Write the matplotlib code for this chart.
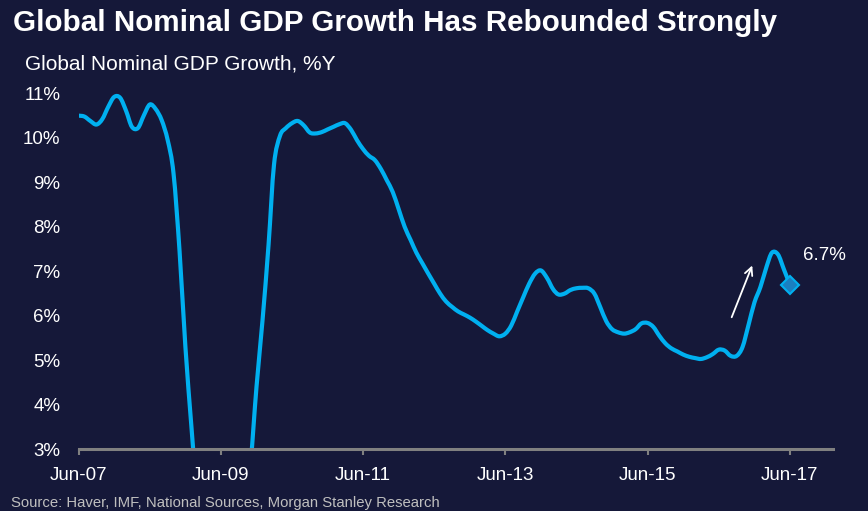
import matplotlib
matplotlib.use("Agg")
import matplotlib.pyplot as plt
import matplotlib.dates as mdates
from matplotlib.path import Path
from matplotlib.patches import PathPatch
import numpy as np
import pandas as pd

plt.rcParams['font.family'] = ['Liberation Sans', 'DejaVu Sans']

# ---- data ----
start_month = "2007-06-01"
gdp_growth = [
    10.50, 10.48, 10.38, 10.30, 10.42, 10.70, 10.92, 10.90, 10.60, 10.25,
    10.22, 10.50, 10.75, 10.65, 10.40, 9.95, 9.20, 7.45, 5.30, 3.50,
    1.80, 0.50, -0.50, -1.20, -1.50, -1.40, -0.80, 0.30, 1.60, 2.70,
    4.40, 5.90, 7.60, 9.40, 10.05, 10.22, 10.33, 10.38, 10.28, 10.12,
    10.10, 10.13, 10.19, 10.25, 10.31, 10.33, 10.18, 9.95, 9.75, 9.60,
    9.50, 9.30, 9.05, 8.78, 8.40, 8.00, 7.70, 7.42, 7.18, 6.95,
    6.72, 6.50, 6.32, 6.20, 6.10, 6.03, 5.96, 5.87, 5.77, 5.68,
    5.60, 5.54, 5.60, 5.78, 6.10, 6.42, 6.72, 6.95, 7.02, 6.85,
    6.60, 6.48, 6.50, 6.58, 6.62, 6.63, 6.62, 6.50, 6.20, 5.88,
    5.70, 5.63, 5.60, 5.63, 5.70, 5.83, 5.84, 5.75, 5.55, 5.38,
    5.27, 5.20, 5.13, 5.08, 5.05, 5.03, 5.07, 5.14, 5.24, 5.22,
    5.10, 5.10, 5.30, 5.80, 6.30, 6.65, 7.10, 7.42, 7.38, 7.05,
    6.70,
]
dates = pd.date_range(start_month, periods=len(gdp_growth), freq="MS")
tick_dates = pd.to_datetime(["2007-06-01", "2009-06-01", "2011-06-01",
                             "2013-06-01", "2015-06-01", "2017-06-01"])
tick_labels = ["Jun-07", "Jun-09", "Jun-11", "Jun-13", "Jun-15", "Jun-17"]
y_ticks = [3, 4, 5, 6, 7, 8, 9, 10, 11]
y_labels = [f"{v}%" for v in y_ticks]
last_label = "6.7%"
arrow_tail = (pd.Timestamp("2016-08-01"), 5.91)
arrow_head = (pd.Timestamp("2016-11-25"), 7.19)
label_pos = (pd.Timestamp("2017-08-10"), 7.35)

title = "Global Nominal GDP Growth Has Rebounded Strongly"
subtitle = "Global Nominal GDP Growth, %Y"
source = "Source: Haver, IMF, National Sources, Morgan Stanley Research"

# ---- style ----
bg = "#151839"
line_color = "#00b0f0"
W, H = 868, 511
fig = plt.figure(figsize=(W / 100, H / 100), dpi=100, facecolor=bg)
ax_left, ax_right, ax_bottom, ax_top = 78.5, 832.7, 449.3, 93.4
ax = fig.add_axes([ax_left / W, 1 - ax_bottom / H,
                   (ax_right - ax_left) / W, (ax_bottom - ax_top) / H])
ax.set_facecolor(bg)

# smoothed line (Catmull-Rom rendered as cubic Bezier segments, like a smoothed chart line)
xs = mdates.date2num(dates)
ys = np.asarray(gdp_growth, dtype=float)
pts = np.column_stack([xs, ys])
verts = [tuple(pts[0])]
codes = [Path.MOVETO]
n = len(pts)
for i in range(n - 1):
    p0 = pts[i - 1] if i > 0 else pts[i]
    p1 = pts[i]
    p2 = pts[i + 1]
    p3 = pts[i + 2] if i + 2 < n else pts[i + 1]
    c1 = p1 + (p2 - p0) / 6.0
    c2 = p2 - (p3 - p1) / 6.0
    verts += [tuple(c1), tuple(c2), tuple(p2)]
    codes += [Path.CURVE4] * 3
patch = PathPatch(Path(verts, codes), facecolor="none", edgecolor=line_color,
                  lw=3.0, joinstyle="round", capstyle="round", zorder=3)
ax.add_patch(patch)

ax.plot(dates[-1], gdp_growth[-1], marker="D", markersize=9,
        markerfacecolor="#1a7fc0", markeredgecolor=line_color,
        markeredgewidth=1.5, zorder=4)

ax.set_ylim(3, 11)
ax.set_xlim(dates[0], pd.Timestamp("2018-01-07"))
ax.set_yticks(y_ticks)
ax.set_yticklabels(y_labels)
ax.set_xticks(tick_dates)
ax.set_xticklabels(tick_labels)

for s in ["top", "right", "left"]:
    ax.spines[s].set_visible(False)
ax.spines["bottom"].set_color("#808080")
ax.spines["bottom"].set_linewidth(2.2)
ax.spines["bottom"].set_zorder(5)
ax.tick_params(axis="y", length=0, pad=13, labelsize=13.5, labelcolor="white")
ax.tick_params(axis="x", direction="out", length=4.5, width=1.5, color="#808080",
               pad=8, labelsize=13.5, labelcolor="white")

ax.annotate("", xy=arrow_head, xytext=arrow_tail,
            arrowprops=dict(arrowstyle="->", color="white", lw=1.3,
                            mutation_scale=14))
ax.text(label_pos[0], label_pos[1], last_label, color="white", fontsize=13.5,
        ha="left", va="center")

fig.text(13 / W, 1 - 31 / H, title, color="white", fontsize=21.3,
         fontweight="bold", ha="left", va="baseline")
fig.text(25 / W, 1 - 70 / H, subtitle, color="white", fontsize=15,
         ha="left", va="baseline")
fig.text(11 / W, 1 - 507 / H, source, color="#bfbfbf", fontsize=10.7,
         ha="left", va="baseline")

fig.savefig("out.png", dpi=100, facecolor=bg)
